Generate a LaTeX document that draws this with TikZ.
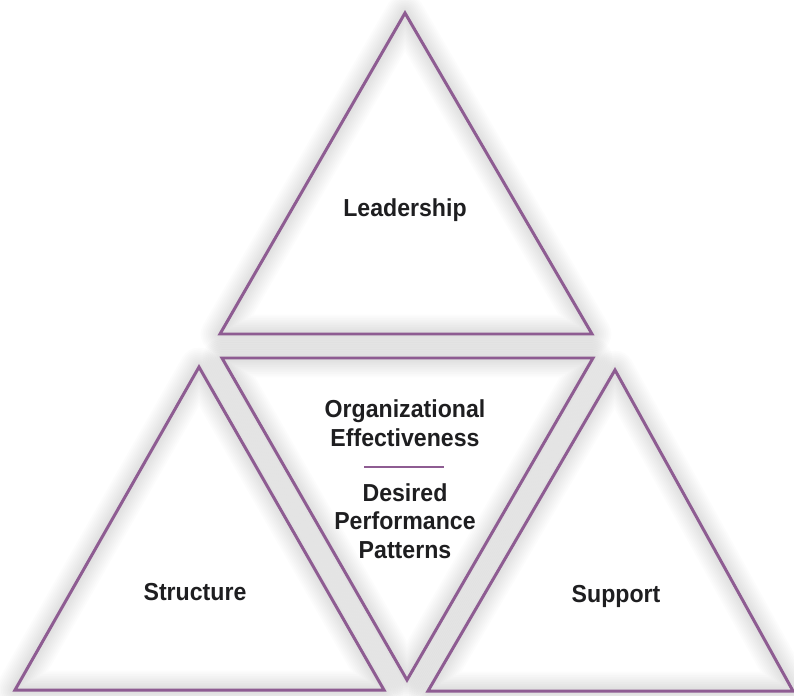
\documentclass[tikz,border=0pt]{standalone}
\usepackage{fontspec}
\setmainfont{Liberation Sans}[FakeStretch=0.94]
\usepackage{xcolor}
\usetikzlibrary{positioning,calc}
\definecolor{triline}{RGB}{142,92,146}
\definecolor{labeltext}{RGB}{30,30,32}

\begin{document}
\begin{tikzpicture}[x=0.02cm, y=-0.02cm,
    edge/.style={draw=triline, line width=1.7pt, line join=miter},
    glow/.style={draw=black, line join=round, opacity=0.011},
    label/.style={font=\bfseries\fontsize{14}{16}\selectfont, text=labeltext, inner sep=0pt, align=center}]
    \useasboundingbox (0,0) rectangle (794,696);

    % corners of the four triangles
    \coordinate (lead-top) at (405,13);
    \coordinate (lead-l) at (220,334);
    \coordinate (lead-r) at (592,334);
    \coordinate (core-l) at (222,358);
    \coordinate (core-r) at (593,358);
    \coordinate (core-bot) at (407,680);
    \coordinate (struct-top) at (199,367);
    \coordinate (struct-l) at (15,690);
    \coordinate (struct-r) at (384,690);
    \coordinate (supp-top) at (615,370);
    \coordinate (supp-l) at (428,691);
    \coordinate (supp-r) at (793,691);

    % soft shadows
    \foreach \w in {2,4,...,22}
      \foreach \a/\b/\c in {lead-top/lead-l/lead-r, core-l/core-r/core-bot,
                            struct-top/struct-l/struct-r, supp-top/supp-l/supp-r}
        \draw[glow, line width=\w pt, yshift=-3pt] (\a) -- (\b) -- (\c) -- cycle;

    % outlines
    \draw[edge] (lead-top) -- (lead-l) -- (lead-r) -- cycle;
    \draw[edge] (core-l) -- (core-r) -- (core-bot) -- cycle;
    \draw[edge] (struct-top) -- (struct-l) -- (struct-r) -- cycle;
    \draw[edge] (supp-top) -- (supp-l) -- (supp-r) -- cycle;

    % labels
    \node[label, anchor=base] (leadership) at (405,216) {Leadership};
    \node[label, anchor=base] (structure) at (195,600) {Structure};
    \node[label, anchor=base] (support) at (616,602) {Support};
    \node[label, anchor=base] (effect) at (405,446) {Organizational\\Effectiveness};
    \node[label, anchor=base] (patterns) at (405,558) {Desired\\Performance\\Patterns};

    \coordinate (rule-l) at (364,467);
    \coordinate (rule-r) at (444,467);
    \draw[draw=triline, line width=1.2pt] (rule-l) -- (rule-r);
\end{tikzpicture}
\end{document}
